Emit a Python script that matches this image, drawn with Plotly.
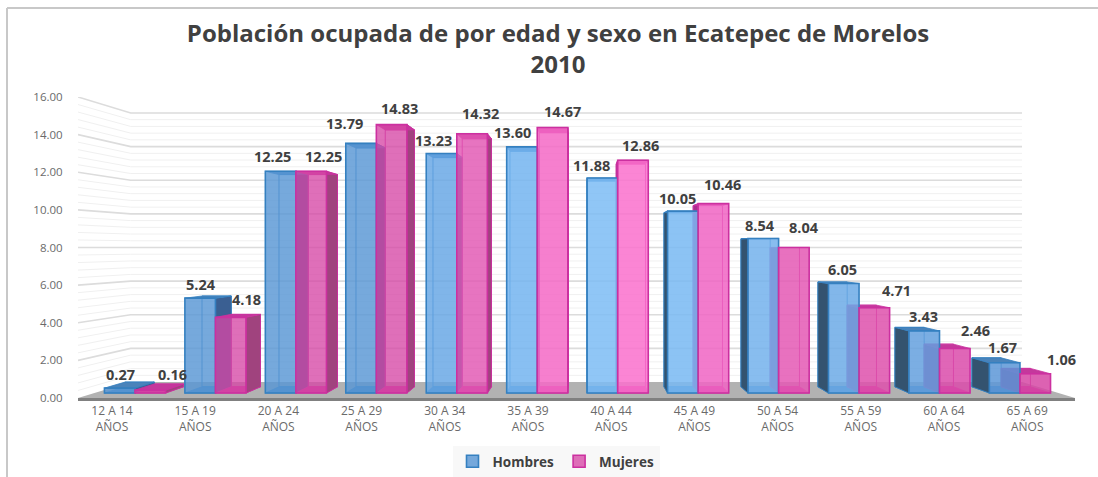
import plotly.graph_objects as go

# ---- data ----
categories = ["12 A 14<br>AÑOS", "15 A 19<br>AÑOS", "20 A 24<br>AÑOS", "25 A 29<br>AÑOS",
              "30 A 34<br>AÑOS", "35 A 39<br>AÑOS", "40 A 44<br>AÑOS", "45 A 49<br>AÑOS",
              "50 A 54<br>AÑOS", "55 A 59<br>AÑOS", "60 A 64<br>AÑOS", "65 A 69<br>AÑOS"]
hombres = [0.27, 5.24, 12.25, 13.79, 13.23, 13.60, 11.88, 10.05, 8.54, 6.05, 3.43, 1.67]
mujeres = [0.16, 4.18, 12.25, 14.83, 14.32, 14.67, 12.86, 10.46, 8.04, 4.71, 2.46, 1.06]
y_ticks = [0, 2, 4, 6, 8, 10, 12, 14, 16]
title_text = "Población ocupada de por edad y sexo en Ecatepec de Morelos<br>2010"

# ---- label nudges (pixels) ----
h_dx = [1, 1, -8, -17, -8, -9, -11, -5, -3, -1, -1, -2]
h_dy = [14, 14, 15, 20, 13.5, 14, 12, 13, 13, 14.5, 14, 15]
m_dx = [22, 16, 12, 8, 8, 9.5, 8, 9, 10, 22, 21, 26]
m_dy = [16, 18, 15, 16, 20, 15.5, 15, 19, 19.5, 17, 17.5, 14]

# ---- styles ----
h_front = ["rgba(88,150,212,.82)"] * 4 + ["rgba(100,165,228,.82)", "rgba(115,180,240,.85)",
           "rgba(125,188,245,.85)", "rgba(120,184,242,.85)", "rgba(115,178,236,.85)",
           "rgba(108,170,230,.85)", "rgba(100,160,222,.85)", "rgba(92,150,215,.85)"]
m_front = ["rgba(214,70,165,.78)"] * 4 + ["rgba(226,85,178,.82)", "rgba(245,105,198,.85)",
           "rgba(250,112,205,.85)", "rgba(240,100,195,.85)", "rgba(228,88,180,.85)",
           "rgba(222,80,172,.85)", "rgba(218,75,170,.85)", "rgba(214,70,165,.85)"]
H_LINE, M_LINE = "#3580c0", "#cc30a0"
TXT, TICK = "#404040", "#6a6a6a"
FONT = "Open Sans"

# ---- frame (pixel geometry of the chart area) ----
W, H = 1098, 477
L, R, T, B = 78, 1075, 97, 398
lab_x0, lab_step = 112, 83.2      # tick-label spacing
bar_x0, bar_step = 135, 80.45     # bar-cluster spacing
bar_y0, bar_unit = 393, 18.1      # bar floor and px per unit
BW = 0.38

x_main = [(L - lab_x0) / lab_step, (R - lab_x0) / lab_step]
x_bar = [(L - bar_x0) / bar_step, (R - bar_x0) / bar_step]
y_bar = [(bar_y0 - B) / bar_unit, (bar_y0 - T) / bar_unit]

# perspective helpers: the wall and the bar backs recede toward one vanishing point
wall_k, wall_vx, wall_vy = 0.894, (575 - lab_x0) / lab_step, 8.0
bar_k, bar_vx, bar_vy = 0.957, (583 - bar_x0) / bar_step, (bar_y0 - 248) / bar_unit

def wx(x): return wall_vx + wall_k * (x - wall_vx)
def wy(y): return wall_vy + wall_k * (y - wall_vy)
def bx(x): return bar_vx + bar_k * (x - bar_vx)
def by(y): return bar_vy + bar_k * (y - bar_vy)

fig = go.Figure()

# ---- floor + wall ----
def line(xs, ys, color, width, xa="x", ya="y", fill=None, fillcolor=None):
    fig.add_trace(go.Scatter(x=xs, y=ys, mode="lines", line=dict(color=color, width=width),
                             fill=fill, fillcolor=fillcolor, hoverinfo="skip",
                             showlegend=False, xaxis=xa, yaxis=ya))

x_l, x_r = x_main
line([x_l, x_r, wx(x_r), wx(x_l), x_l], [0, 0, wy(0), wy(0), 0], "#b2b2b2", 0,
     fill="toself", fillcolor="#b2b2b2")

minor = [i * 0.4 for i in range(1, 40) if i % 5 != 0]
mx, my = [], []
for v in minor:
    mx += [x_l, wx(x_l), wx(x_r), None]
    my += [v, wy(v), wy(v), None]
line(mx, my, "#f0f0f0", 1)
major = [v for v in y_ticks if v > 0]
Mx, My = [], []
for v in major:
    Mx += [x_l, wx(x_l), wx(x_r), None]
    My += [v, wy(v), wy(v), None]
line(Mx, My, "#dcdcdc", 1.6)

# ---- bar depth faces, drawn from the same values as the bars ----
def faces(vals, shift, lc, outer_l, outer_r, top_c):
    groups = {"back": ([], []), "l": ([], []), "r": ([], []), "top": ([], []), "bot": ([], [])}
    def add(g, pts):
        for p in pts:
            groups[g][0].append(p[0])
            groups[g][1].append(p[1])
        groups[g][0].append(None)
        groups[g][1].append(None)
    for i, v in enumerate(vals):
        x0, x1 = i + shift, i + shift + BW
        b0, b1, t, f = bx(x0), bx(x1), by(v), by(0)
        add("back", [(b0, f), (b1, f), (b1, t), (b0, t), (b0, f)])
        add("top", [(x0, v), (x1, v), (b1, t), (b0, t), (x0, v)])
        add("bot", [(x0, 0), (x1, 0), (b1, f), (b0, f), (x0, 0)])
        if b0 < x0:
            add("l", [(x0, 0), (x0, v), (b0, t), (b0, f), (x0, 0)])
        if b1 > x1:
            add("r", [(x1, 0), (x1, v), (b1, t), (b1, f), (x1, 0)])
    a, b = groups["back"]
    line(a, b, lc, 1, "x2", "y2", "toself", "rgba(255,255,255,0)")
    a, b = groups["bot"]
    line(a, b, lc, 0.8, "x2", "y2", "toself", top_c)
    a, b = groups["l"]
    line(a, b, lc, 0.8, "x2", "y2", "toself", outer_l)
    a, b = groups["r"]
    line(a, b, lc, 0.8, "x2", "y2", "toself", outer_r)
    a, b = groups["top"]
    line(a, b, lc, 0.8, "x2", "y2", "toself", top_c)

faces(hombres, -BW, H_LINE, "#34536f", "#3a5f92", "#4a83ba")
faces(mujeres, 0, M_LINE, "#a8308e", "#a0437e", "#c4389c")

# ---- the bars ----
xs = list(range(len(categories)))
fig.add_trace(go.Bar(name="Hombres", x=xs, y=hombres, width=BW, offset=-BW,
                     marker=dict(color=h_front, line=dict(color=H_LINE, width=1.6)),
                     xaxis="x3", yaxis="y3"))
fig.add_trace(go.Bar(name="Mujeres", x=xs, y=mujeres, width=BW, offset=0,
                     marker=dict(color=m_front, line=dict(color=M_LINE, width=1.6)),
                     xaxis="x3", yaxis="y3"))

# ---- value labels ----
ann = []
for vals, shift, dxs, dys in ((hombres, -BW / 2, h_dx, h_dy), (mujeres, BW / 2, m_dx, m_dy)):
    for i, v in enumerate(vals):
        ann.append(dict(x=i + shift, y=v, xref="x3", yref="y3", text=f"{v:.2f}", showarrow=False,
                        xshift=dxs[i], yshift=dys[i], xanchor="center", yanchor="middle",
                        font=dict(family=FONT, size=14.5, color=TXT, weight=700)))

hidden = dict(visible=False, fixedrange=True)
fig.update_layout(
    width=W, height=H, autosize=False,
    margin=dict(l=L, r=W - R, t=T, b=H - B, pad=0),
    paper_bgcolor="white", plot_bgcolor="white",
    barmode="overlay",
    title=dict(text=title_text, x=558 / W, xanchor="center", y=1 - 42 / H, yanchor="top",
               font=dict(family=FONT, size=24, color=TXT, weight=700)),
    xaxis=dict(range=x_main, tickmode="array", tickvals=xs, ticktext=categories, showgrid=False,
               zeroline=False, showline=True, linecolor="#808080", linewidth=2.5, ticks="",
               tickangle=0, tickfont=dict(family=FONT, size=12, color=TICK), fixedrange=True),
    yaxis=dict(range=[0, 16], tickmode="array", tickvals=y_ticks, tickformat=".2f", showgrid=False,
               zeroline=False, showline=False, ticks="outside", ticklen=12, tickcolor="rgba(0,0,0,0)",
               tickfont=dict(family=FONT, size=11.5, color=TICK), fixedrange=True),
    xaxis2=dict(range=x_bar, overlaying="x", **hidden),
    yaxis2=dict(range=y_bar, overlaying="y", **hidden),
    xaxis3=dict(range=x_bar, overlaying="x", **hidden),
    yaxis3=dict(range=y_bar, overlaying="y", **hidden),
    legend=dict(orientation="h", x=556 / W, xref="container", xanchor="center",
                y=0, yref="container", yanchor="bottom",
                bgcolor="#f8f8f8", itemwidth=30, tracegroupgap=0,
                font=dict(family=FONT, size=13.5, color=TXT, weight=700)),
    annotations=ann,
    shapes=[
        dict(type="line", xref="paper", yref="paper", x0=(7 - L) / (R - L), x1=(7 - L) / (R - L),
             y0=(B - 8) / (B - T), y1=(B - H) / (B - T), line=dict(color="#c8c8c8", width=2)),
        dict(type="line", xref="paper", yref="paper", x0=(7 - L) / (R - L), x1=(W - L) / (R - L),
             y0=(B - 8) / (B - T), y1=(B - 8) / (B - T), line=dict(color="#c8c8c8", width=2)),
    ],
)

fig.write_html("out.html", post_script="document.body.style.margin='0';", config={"displayModeBar": False})
